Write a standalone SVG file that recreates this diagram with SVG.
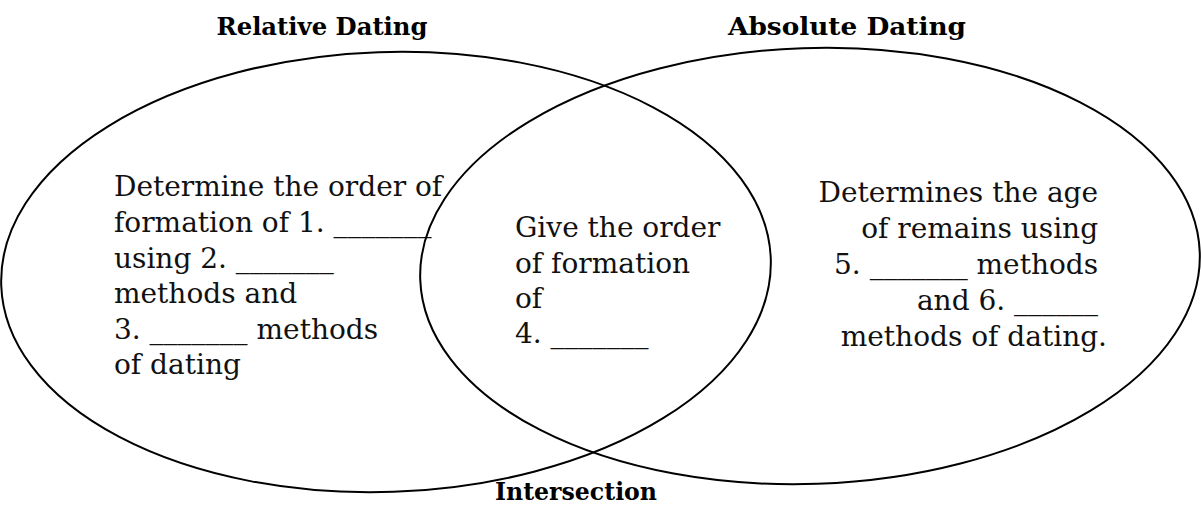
<svg xmlns="http://www.w3.org/2000/svg" width="1201" height="506" viewBox="0 0 1201 506">
<style>
.ell{fill:none;stroke:#000;stroke-width:2}
.title{font-family:"DejaVu Serif","Liberation Serif",serif;font-weight:bold;font-size:24px;fill:#000}
.body{font-family:"DejaVu Serif","Liberation Serif",serif;font-size:28px;fill:#111}
</style>
<rect width="1201" height="506" fill="#fff"/>
<g id="relative">
<ellipse class="ell" cx="386" cy="272" rx="385" ry="220" transform="rotate(-2 386 272)"/>
<text class="title" x="322" y="35" text-anchor="middle" textLength="211" lengthAdjust="spacingAndGlyphs">Relative Dating</text>
<text class="body">
<tspan x="114" y="196">Determine the order of</tspan>
<tspan x="114" y="232">formation of 1. _______</tspan>
<tspan x="114" y="268">using 2. _______</tspan>
<tspan x="114" y="303">methods and</tspan>
<tspan x="114" y="339">3. _______ methods</tspan>
<tspan x="114" y="374">of dating</tspan>
</text>
</g>
<g id="absolute">
<ellipse class="ell" cx="810" cy="266" rx="390" ry="218" transform="rotate(-2 810 266)"/>
<text class="title" x="847" y="35" text-anchor="middle" textLength="238" lengthAdjust="spacingAndGlyphs">Absolute Dating</text>
<text class="body" text-anchor="end">
<tspan x="1107" y="202">Determines the age</tspan>
<tspan x="1107" y="238">of remains using</tspan>
<tspan x="1107" y="274">5. _______ methods</tspan>
<tspan x="1107" y="310">and 6. ______</tspan>
<tspan x="1107" y="346">methods of dating.</tspan>
</text>
</g>
<g id="intersection">
<text class="title" x="576" y="500" text-anchor="middle" textLength="162" lengthAdjust="spacingAndGlyphs">Intersection</text>
<text class="body">
<tspan x="515" y="237">Give the order</tspan>
<tspan x="515" y="273">of formation</tspan>
<tspan x="515" y="308">of</tspan>
<tspan x="515" y="343">4. _______</tspan>
</text>
</g>
<g id="connectors"/>
</svg>
